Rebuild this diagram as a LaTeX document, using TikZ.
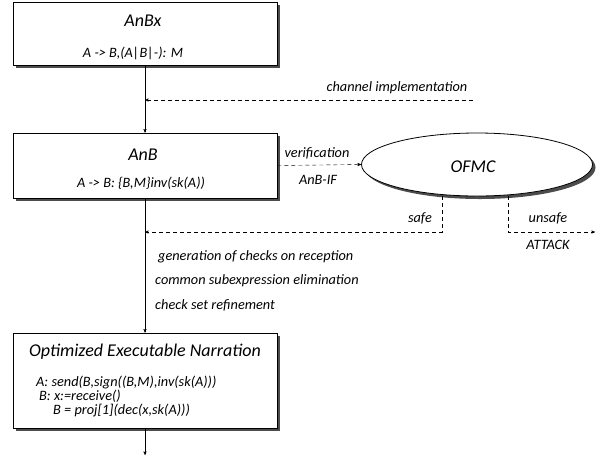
\documentclass[tikz,border=0pt]{standalone}
\usepackage{fontspec}
\setmainfont{Carlito}
\usetikzlibrary{arrows, shapes, positioning, shadows}
\tikzstyle{line} = [draw, -stealth']
\tikzstyle{dline} = [draw, -stealth', dash pattern=on 4pt off 3pt]

\begin{document}
\begin{tikzpicture}[x=1pt,y=-1pt,
 box/.style={draw,thick,fill=white,minimum width=264pt,
  drop shadow={shadow xshift=3pt,shadow yshift=-3pt,fill=black!70,opacity=1}},
 ttl/.style={font=\fontsize{18}{20}\selectfont\itshape},
 lbl/.style={font=\fontsize{14.3}{16}\selectfont\itshape,inner sep=1pt}]
 \useasboundingbox (0,0) rectangle (600,467);

 \node[box, minimum height=63pt] (anbx) at (145,33.5) {};
 \node[ttl] (t1) at (143,21) {AnBx};
 \node[lbl] (s1) at (133,53) {A -> B,(A|B|-): M};

 \node[box, minimum height=65pt] (anb) at (145,165.5) {};
 \node[ttl] (t2) at (143,155) {AnB};
 \node[lbl] (s2) at (141,183) {A -> B: \{B,M\}inv(sk(A))};

 \node[box, minimum height=95pt] (oen) at (145,380.5) {};
 \node[ttl] (t3) at (145,352) {Optimized Executable Narration};
 \node[lbl, anchor=west] (l1) at (35,382) {A: send(B,sign((B,M),inv(sk(A)))};
 \node[lbl, anchor=west] (l2) at (38,396) {B: x:=receive()};
 \node[lbl, anchor=west] (l3) at (52,410) {B = proj[1](dec(x,sk(A)))};

 \node[ellipse, draw, thick, fill=white, minimum width=231pt, minimum height=63pt,
  drop shadow={shadow xshift=3pt,shadow yshift=-3pt,fill=black!70,opacity=1}] (ofmc) at (477,164.5) {};
 \node[ttl] (t4) at (473,167) {OFMC};

 % main flow
 \draw[line] (anbx.south) -- (anb.north);
 \draw[line] (anb.south) -- (oen.north);
 \coordinate (out) at (145,455);
 \draw[line] (oen.south) -- (out);

 % channel implementation
 \coordinate (ci) at (473,100);
 \draw[dline] (ci) -- (ci -| anbx.south);
 \node[lbl] (c1) at (397,88) {channel implementation};

 % verification
 \draw[dline] (anb.east) -- (ofmc.west);
 \node[lbl] (v1) at (317,153) {verification};
 \node[lbl] (v2) at (318,180) {AnB-IF};

 % results
 \coordinate (sf) at (442,232);
 \coordinate (us) at (508,232);
 \coordinate (at) at (595,232);
 \draw[dline] (ofmc.south -| sf) -- (sf) -- (sf -| anb.south);
 \draw[dline] (ofmc.south -| us) -- (us) -- (at);
 \node[lbl] (r1) at (420,218) {safe};
 \node[lbl] (r2) at (548,218) {unsafe};
 \node[lbl] (r3) at (548,245) {ATTACK};

 % transformations
 \node[lbl, anchor=west] (g1) at (157,257) {generation of checks on reception};
 \node[lbl, anchor=west] (g2) at (154,281) {common subexpression elimination};
 \node[lbl, anchor=west] (g3) at (154,305) {check set refinement};
\end{tikzpicture}
\end{document}
